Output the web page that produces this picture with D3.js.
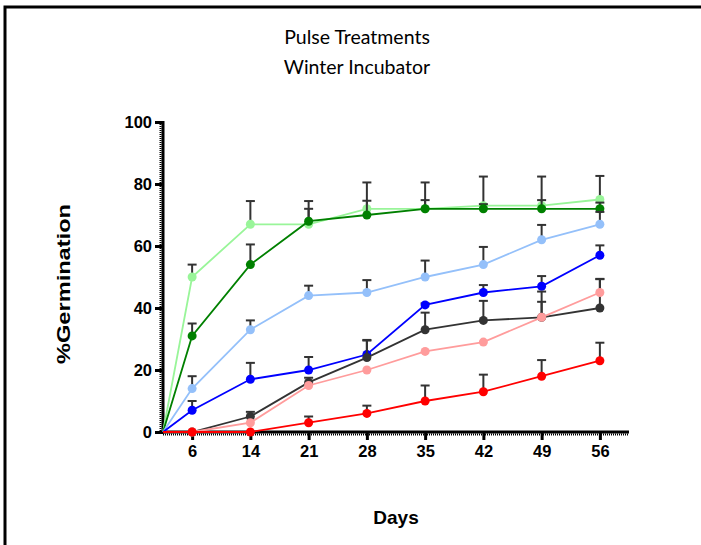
<!DOCTYPE html>
<html>
<head>
<meta charset="utf-8">
<script src="https://cdn.jsdelivr.net/npm/d3@7"></script>
<style>
  body { margin: 0; background: #fff; }
  svg { display: block; }
</style>
</head>
<body>
<div id="vis-container"></div>
<script>
// days sampled (day 0 is the common origin)
var days = [6, 14, 21, 28, 35, 42, 49, 56];
var yTicks = [0, 20, 40, 60, 80, 100];

// % germination per treatment, and the upward error (SEM) for each point
var lightGreen    = [50, 67, 67, 72, 72, 73, 73, 75];
var lightGreenErr = [4, 7.5, 5, 8.5, 8.5, 9.4, 9.4, 7.6];
var green         = [31, 54, 68, 70, 72, 72, 72, 72];
var greenErr      = [4, 6.5, 6.5, 4.6, 2.8, 1.5, 2.8, 2];
var lightBlue     = [14, 33, 44, 45, 50, 54, 62, 67];
var lightBlueErr  = [4, 3, 3.2, 4, 5.3, 5.7, 4.8, 4];
var blue          = [7, 17, 20, 25, 41, 45, 47, 57];
var blueErr       = [3, 5.3, 4.2, 4.7, 0.5, 2.4, 3.3, 3.2];
var grey          = [0, 5, 16, 24, 33, 36, 37, 40];
var greyErr       = [0, 1.5, 1.5, 5.5, 5.5, 6.3, 8.3, 9.4];
var pink          = [0, 3, 15, 20, 26, 29, 37, 45];
var pinkErr       = [0, 0, 0, 0, 0, 0, 5, 4.3];
var red           = [0, 0, 3, 6, 10, 13, 18, 23];
var redErr        = [0, 0, 2, 2.5, 5, 5.5, 5.2, 5.8];

var series = [
  {color: "#99f599", values: lightGreen, err: lightGreenErr},
  {color: "#008000", values: green, err: greenErr},
  {color: "#94c0fa", values: lightBlue, err: lightBlueErr},
  {color: "#0000ff", values: blue, err: blueErr},
  {color: "#333333", values: grey, err: greyErr},
  {color: "#ff9c9c", values: pink, err: pinkErr},
  {color: "#ff0000", values: red, err: redErr}
];

var W = 701, H = 545;
var svg = d3.select("#vis-container").append("svg")
  .attr("width", W).attr("height", H);

// frame (top and left only)
svg.append("path")
  .attr("d", "M5,545 L5,7 L701,7")
  .attr("fill", "none").attr("stroke", "#000").attr("stroke-width", 3);

// titles
svg.append("text").attr("x", 357).attr("y", 44).attr("text-anchor", "middle")
  .style("font-family", "Lato, 'Open Sans', sans-serif").style("font-size", "19.5px")
  .text("Pulse Treatments");
svg.append("text").attr("x", 357).attr("y", 74).attr("text-anchor", "middle")
  .style("font-family", "Lato, 'Open Sans', sans-serif").style("font-size", "19.5px")
  .text("Winter Incubator");

var plotLeft = 163, plotRight = 629, plotTop = 122, plotBottom = 432;

// x: day 0 sits at the axis origin, each sample day takes one slot
var slot = d3.scaleLinear().domain([0, days.length]).range([plotLeft, plotRight]);
var xPos = function(i) { return i < 0 ? plotLeft : slot(i + 0.5); };
var y = d3.scaleLinear().domain([0, 100]).range([plotBottom, plotTop]);

var g = svg.append("g");

// y axis
var yAxis = g.append("g").attr("transform", "translate(" + plotLeft + ",0)")
  .call(d3.axisLeft(y).tickValues(yTicks).tickSize(8).tickPadding(3));
yAxis.select(".domain").remove();
yAxis.selectAll(".tick line").attr("stroke-width", 3);
yAxis.selectAll(".tick text")
  .style("font-family", "'Liberation Sans', Arial, sans-serif")
  .style("font-size", "16.5px").style("font-weight", "bold").attr("fill", "#000");
g.append("line").attr("x1", plotLeft).attr("x2", plotLeft).attr("y1", plotTop - 1).attr("y2", plotBottom + 1.5)
  .attr("stroke", "#000").attr("stroke-width", 3);
g.append("line").attr("x1", plotLeft - 2.5).attr("x2", plotLeft - 2.5).attr("y1", plotTop).attr("y2", plotBottom)
  .attr("stroke", "#000").attr("stroke-width", 2).attr("stroke-dasharray", "1,1");

// x axis
var xAxis = g.append("g").attr("transform", "translate(0," + plotBottom + ")")
  .call(d3.axisBottom(slot)
    .tickValues(days.map(function(d, i) { return i + 0.5; }))
    .tickFormat(function(d) { return days[d - 0.5]; })
    .tickSize(8).tickPadding(5));
xAxis.select(".domain").remove();
xAxis.selectAll(".tick line").attr("stroke-width", 3);
xAxis.selectAll(".tick text")
  .style("font-family", "'Liberation Sans', Arial, sans-serif")
  .style("font-size", "16.5px").style("font-weight", "bold").attr("fill", "#000");
g.append("line").attr("x1", plotLeft - 1.5).attr("x2", plotRight).attr("y1", plotBottom).attr("y2", plotBottom)
  .attr("stroke", "#000").attr("stroke-width", 3);
g.append("line").attr("x1", plotLeft).attr("x2", plotRight).attr("y1", plotBottom + 2.5).attr("y2", plotBottom + 2.5)
  .attr("stroke", "#000").attr("stroke-width", 2).attr("stroke-dasharray", "1,1");

// axis titles
svg.append("text")
  .attr("transform", "translate(70,284) rotate(-90)")
  .attr("text-anchor", "middle")
  .attr("textLength", 160).attr("lengthAdjust", "spacingAndGlyphs")
  .style("font-family", "'Liberation Sans', Arial, sans-serif")
  .style("font-size", "19px").style("font-weight", "bold")
  .text("%Germination");
svg.append("text").attr("x", 396).attr("y", 524).attr("text-anchor", "middle")
  .style("font-family", "'Liberation Sans', Arial, sans-serif")
  .style("font-size", "19px").style("font-weight", "bold")
  .text("Days");

var line = d3.line()
  .x(function(d) { return xPos(d.i); })
  .y(function(d) { return y(d.v); });

series.forEach(function(s) {
  var pts = [{i: -1, v: 0}].concat(s.values.map(function(v, i) { return {i: i, v: v, e: s.err[i]}; }));
  var sg = g.append("g");

  // error bars (upper only)
  var bars = pts.filter(function(d) { return d.i >= 0 && d.e > 0; });
  sg.selectAll(".eb").data(bars).enter().append("line")
    .attr("x1", function(d) { return xPos(d.i); })
    .attr("x2", function(d) { return xPos(d.i); })
    .attr("y1", function(d) { return y(d.v); })
    .attr("y2", function(d) { return y(d.v + d.e); })
    .attr("stroke", "#333").attr("stroke-width", 2);
  sg.selectAll(".cap").data(bars).enter().append("line")
    .attr("x1", function(d) { return xPos(d.i) - 4.5; })
    .attr("x2", function(d) { return xPos(d.i) + 4.5; })
    .attr("y1", function(d) { return y(d.v + d.e); })
    .attr("y2", function(d) { return y(d.v + d.e); })
    .attr("stroke", "#333").attr("stroke-width", 2);

  sg.append("path").datum(pts)
    .attr("d", line).attr("fill", "none")
    .attr("stroke", s.color).attr("stroke-width", 1.8);

  sg.selectAll("circle").data(pts.filter(function(d) { return d.i >= 0; }))
    .enter().append("circle")
    .attr("cx", function(d) { return xPos(d.i); })
    .attr("cy", function(d) { return y(d.v); })
    .attr("r", 4.5).attr("fill", s.color);
});
</script>
</body>
</html>
